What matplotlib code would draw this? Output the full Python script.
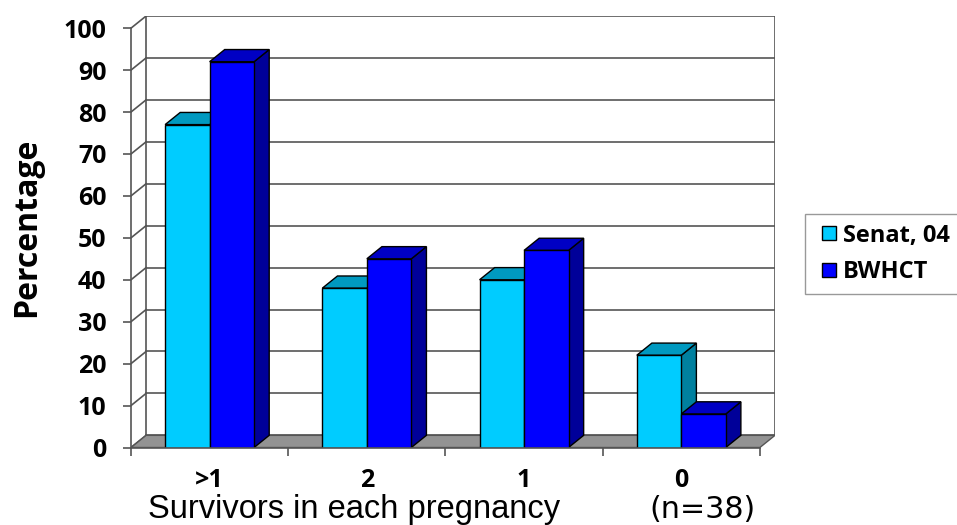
import matplotlib.pyplot as plt
from matplotlib.patches import Polygon, Rectangle
from matplotlib.lines import Line2D

categories = ['>1', '2', '1', '0']
senat = [77, 38, 40, 22]
bwhct = [92, 45, 47, 8]

# fake 3D depth, in data units (x: categories, y: percent)
DX = 0.096
DY = 2.9
BAR_W = 0.283

colors = {
    'Senat, 04': ('#00CCFF', '#0099C0', '#00809F'),
    'BWHCT': ('#0000FF', '#0000C4', '#000099'),
}
grid_c = '#555555'
bold_font = {'family': 'Open Sans', 'weight': 'bold', 'size': 18}

fig = plt.figure(figsize=(9.57, 5.25), dpi=100)
ax = fig.add_axes([131 / 957, 1 - 447.5 / 525, 644 / 957, 431.5 / 525])
ax.set_xlim(0, len(categories) + DX)
ax.set_ylim(0, 100 + DY)

# back wall and side wall
yt = list(range(0, 101, 10))
for y in yt:
    ax.plot([DX, len(categories) + DX], [y + DY, y + DY], color=grid_c, lw=1.2, zorder=0.5)
    ax.plot([0, DX], [y, y + DY], color=grid_c, lw=1.2, zorder=0.5)
ax.plot([DX, DX], [DY, 100 + DY], color=grid_c, lw=1.2, zorder=0.5)
ax.plot([len(categories) + DX] * 2, [DY, 100 + DY], color=grid_c, lw=1.2, zorder=0.5)

# floor
n = len(categories)
ax.add_patch(Polygon([(0, 0), (n, 0), (n + DX, DY), (DX, DY)], closed=True,
                     facecolor='#939393', edgecolor=grid_c, lw=1, zorder=0.6))


def bar3d(x0, h, front, top, side):
    x1 = x0 + BAR_W
    ax.add_patch(Polygon([(x1, 0), (x1 + DX, DY), (x1 + DX, h + DY), (x1, h)],
                         facecolor=side, edgecolor='black', lw=1, zorder=1))
    ax.add_patch(Polygon([(x0, h), (x1, h), (x1 + DX, h + DY), (x0 + DX, h + DY)],
                         facecolor=top, edgecolor='black', lw=1, zorder=1))
    ax.add_patch(Rectangle((x0, 0), BAR_W, h, facecolor=front,
                           edgecolor='black', lw=1, zorder=1))


for i in range(n):
    c = i + 0.5
    bar3d(c - BAR_W, senat[i], *colors['Senat, 04'])
    bar3d(c, bwhct[i], *colors['BWHCT'])

# axes
for s in ['top', 'right']:
    ax.spines[s].set_visible(False)
ax.spines['left'].set_bounds(0, 100)
ax.spines['bottom'].set_bounds(0, n)
for s in ['left', 'bottom']:
    ax.spines[s].set_color(grid_c)
    ax.spines[s].set_linewidth(1.2)

ax.set_yticks(yt)
ax.set_yticklabels([str(v) for v in yt], fontdict=bold_font)
ax.tick_params(axis='y', length=5.8, width=1.2, color=grid_c, pad=12)

ax.set_xticks(range(n + 1))
ax.set_xticklabels([''] * (n + 1))
ax.set_xticks([i + 0.5 for i in range(n)], minor=True)
ax.set_xticklabels(categories, minor=True, fontdict=bold_font)
ax.tick_params(axis='x', which='major', length=5.8, width=1.2, color=grid_c)
ax.tick_params(axis='x', which='minor', length=0, pad=15)

fig.text(27 / 957, 1 - 227 / 525, 'Percentage', family='Open Sans',
         weight='bold', fontsize=23, rotation=90, ha='center', va='center')

fig.text(354 / 957, 1 - 518 / 525, 'Survivors in each pregnancy',
         family='Liberation Sans', fontsize=23.5, ha='center', va='baseline')
fig.text(703 / 957, 1 - 518 / 525, '(n=38)', fontsize=21.7,
         ha='center', va='baseline')

handles = [Line2D([], [], ls='none', marker='s', markersize=10,
                  markerfacecolor=colors[k][0], markeredgecolor='black',
                  markeredgewidth=1) for k in colors]
leg = fig.legend(handles, list(colors), loc='center left',
                 bbox_to_anchor=(805 / 957, 1 - 254 / 525),
                 prop={'family': 'Open Sans', 'weight': 'bold', 'size': 17},
                 frameon=True, fancybox=False, edgecolor='#808080',
                 borderpad=0.4, handlelength=1.2, handletextpad=0.0,
                 labelspacing=0.55, borderaxespad=0)
leg.get_frame().set_linewidth(1)

fig.savefig('out.png', dpi=100)
